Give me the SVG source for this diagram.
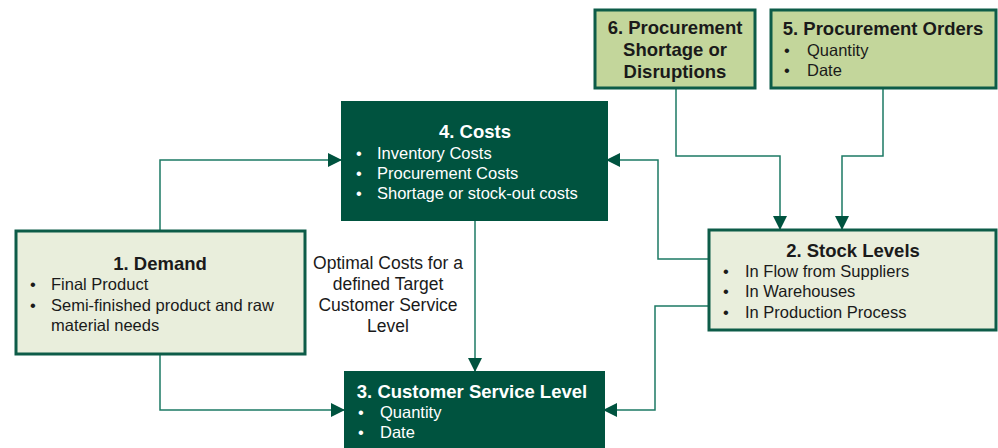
<svg xmlns="http://www.w3.org/2000/svg" width="998" height="448" viewBox="0 0 998 448">
<defs>
<marker id="ah" markerWidth="14" markerHeight="14" refX="13" refY="7" orient="auto" markerUnits="userSpaceOnUse" viewBox="0 0 14 14">
<path d="M0,0 L14,7 L0,14 z" fill="#00533f"/>
</marker>
<style>
text{font-family:"Liberation Sans",Arial,sans-serif;}
.t{font-size:18.5px;font-weight:bold;text-anchor:middle;}
.b{font-size:16.5px;}
.w{fill:#ffffff;}
.k{fill:#1a1a1a;}
.dark{fill:#00533f;stroke:#00533f;stroke-width:2;}
.light{fill:#e9eedc;stroke:#0d5c48;stroke-width:3;}
.mid{fill:#c3d69b;stroke:#0d5c48;stroke-width:3;}
.c{fill:none;stroke:#1d7a64;stroke-width:1.5;}
</style>
</defs>
<rect width="998" height="448" fill="#ffffff"/>
<g id="connectors">
<path class="c" d="M160,230 V160 H341" marker-end="url(#ah)"/>
<path class="c" d="M160,355 V410 H344" marker-end="url(#ah)"/>
<path class="c" d="M475,221 V371" marker-end="url(#ah)"/>
<path class="c" d="M708,259 H658 V160 H607" marker-end="url(#ah)"/>
<path class="c" d="M708,306 H655 V410 H604" marker-end="url(#ah)"/>
<path class="c" d="M676,89 V156 H780 V229" marker-end="url(#ah)"/>
<path class="c" d="M883,89 V156 H842 V229" marker-end="url(#ah)"/>
</g>
<g id="node6">
<rect class="mid" x="595" y="10" width="160" height="78"/>
<text class="t k" x="675" y="34">6. Procurement</text>
<text class="t k" x="675" y="56">Shortage or</text>
<text class="t k" x="675" y="78">Disruptions</text>
</g>
<g id="node5">
<rect class="mid" x="771" y="10" width="225" height="78"/>
<text class="t k" x="883" y="35">5. Procurement Orders</text>
<text class="b k" x="784" y="56">•</text><text class="b k" x="807" y="56">Quantity</text>
<text class="b k" x="784" y="76">•</text><text class="b k" x="807" y="76">Date</text>
</g>
<g id="node4">
<rect class="dark" x="342" y="102" width="265" height="118"/>
<text class="t w" x="475" y="138">4. Costs</text>
<text class="b w" x="356" y="159">•</text><text class="b w" x="377" y="159">Inventory Costs</text>
<text class="b w" x="356" y="179">•</text><text class="b w" x="377" y="179">Procurement Costs</text>
<text class="b w" x="356" y="199">•</text><text class="b w" x="377" y="199">Shortage or stock-out costs</text>
</g>
<g id="node1">
<rect class="light" x="16" y="231" width="289" height="123"/>
<text class="t k" x="160" y="270">1. Demand</text>
<text class="b k" x="30" y="290">•</text><text class="b k" x="51" y="290">Final Product</text>
<text class="b k" x="30" y="311">•</text><text class="b k" x="51" y="311">Semi-finished product and raw</text>
<text class="b k" x="51" y="331">material needs</text>
</g>
<g id="node2">
<rect class="light" x="709" y="230" width="287" height="100"/>
<text class="t k" x="853" y="257">2. Stock Levels</text>
<text class="b k" x="723" y="277">•</text><text class="b k" x="745" y="277">In Flow from Suppliers</text>
<text class="b k" x="723" y="297">•</text><text class="b k" x="745" y="297">In Warehouses</text>
<text class="b k" x="723" y="318">•</text><text class="b k" x="745" y="318">In Production Process</text>
</g>
<g id="node3">
<rect class="dark" x="345" y="372" width="259" height="80"/>
<text class="t w" x="472" y="398">3. Customer Service Level</text>
<text class="b w" x="358" y="418">•</text><text class="b w" x="380" y="418">Quantity</text>
<text class="b w" x="358" y="438">•</text><text class="b w" x="380" y="438">Date</text>
</g>
<g id="label">
<text class="k" x="388" y="269" text-anchor="middle" style="font-size:17.5px">Optimal Costs for a</text>
<text class="k" x="388" y="290" text-anchor="middle" style="font-size:17.5px">defined Target</text>
<text class="k" x="388" y="311" text-anchor="middle" style="font-size:17.5px">Customer Service</text>
<text class="k" x="388" y="332" text-anchor="middle" style="font-size:17.5px">Level</text>
</g>
</svg>
